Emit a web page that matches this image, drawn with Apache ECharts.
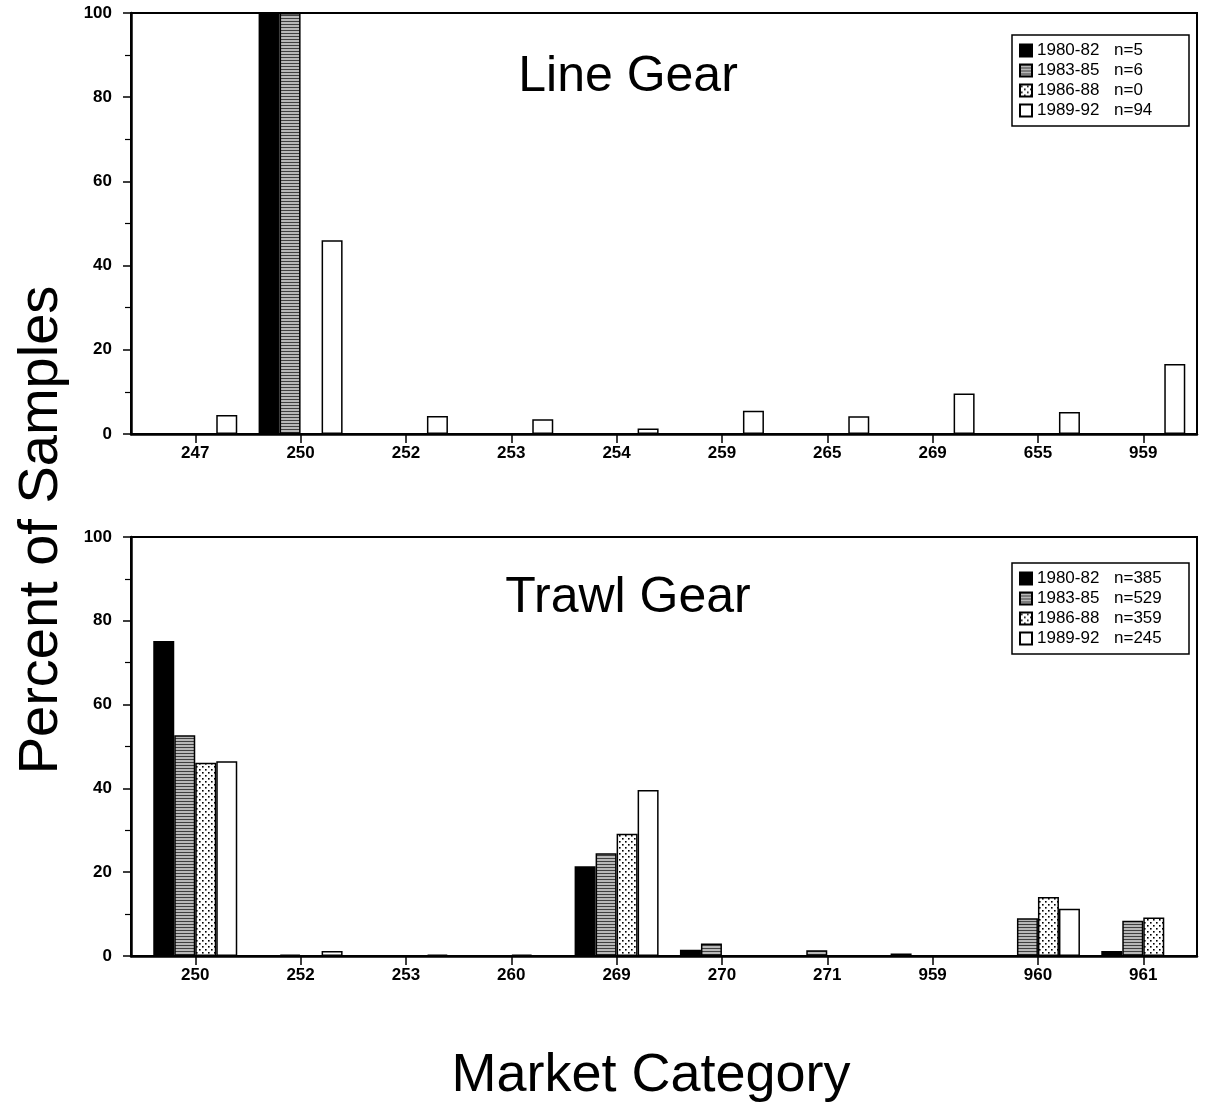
<!DOCTYPE html>
<html>
<head>
<meta charset="utf-8">
<script src="https://cdn.jsdelivr.net/npm/echarts@6/dist/echarts.min.js"></script>
<style>
  html, body { margin: 0; padding: 0; background: #fff; }
  #chart { width: 1207px; height: 1108px; }
</style>
</head>
<body>
<div id="chart"></div>
<script>
  // sampling periods (same in both panels)
  const periods = ['1980-82', '1983-85', '1986-88', '1989-92'];

  // Line Gear panel
  const lineCats = ['247', '250', '252', '253', '254', '259', '265', '269', '655', '959'];
  const lineN = [5, 6, 0, 94];
  const line8082 = [0, 100, 0, 0, 0, 0, 0, 0, 0, 0];
  const line8385 = [0, 100, 0, 0, 0, 0, 0, 0, 0, 0];
  const line8688 = [0, 0, 0, 0, 0, 0, 0, 0, 0, 0];
  const line8992 = [4.5, 46, 4.3, 3.5, 1.3, 5.5, 4.2, 9.6, 5.2, 16.6];

  // Trawl Gear panel
  const trawlCats = ['250', '252', '253', '260', '269', '270', '271', '959', '960', '961'];
  const trawlN = [385, 529, 359, 245];
  const trawl8082 = [75.2, 0, 0, 0, 21.4, 1.5, 0, 0.6, 0, 1.2];
  const trawl8385 = [52.7, 0.3, 0, 0, 24.5, 3.0, 1.4, 0, 9.0, 8.4];
  const trawl8688 = [46.1, 0, 0, 0.3, 29.2, 0, 0, 0, 14.1, 9.2];
  const trawl8992 = [46.5, 1.2, 0.3, 0, 39.6, 0, 0, 0, 11.3, 0];

  const font = '"Liberation Sans", Arial, Helvetica, sans-serif';

  // fill patterns like the old printout
  const makePattern = (w, h, draw) => {
    const c = document.createElement('canvas');
    c.width = w;
    c.height = h;
    draw(c.getContext('2d'));
    return c;
  };
  const hatch = makePattern(4, 3, (ctx) => {
    ctx.fillStyle = '#b8b8b8';
    ctx.fillRect(0, 0, 4, 3);
    ctx.fillStyle = '#404040';
    ctx.fillRect(0, 0, 4, 1);
  });
  const dots = makePattern(6, 6, (ctx) => {
    ctx.fillStyle = '#fff';
    ctx.fillRect(0, 0, 6, 6);
    ctx.fillStyle = '#000';
    ctx.fillRect(1, 1, 1.6, 1.6);
    ctx.fillRect(4, 4, 1.6, 1.6);
  });
  const fills = ['#000', { image: hatch, repeat: 'repeat' }, { image: dots, repeat: 'repeat' }, '#fff'];

  const makeSeries = (arrs, idx) => arrs.map((arr, i) => ({
    name: periods[i],
    type: 'bar',
    xAxisIndex: idx,
    yAxisIndex: idx,
    barWidth: 21,
    barGap: '0%',
    itemStyle: { color: fills[i], borderColor: '#000', borderWidth: 1.5 },
    data: arr.map((v, k) => [k, v]),
  }));

  const makeXAxis = (idx, cats) => ({
    gridIndex: idx,
    type: 'value',
    min: -0.61,
    max: 9.51,
    axisLine: { show: true, onZero: false, lineStyle: { color: '#000', width: 2.5 } },
    axisTick: { show: true, customValues: cats.map((c, i) => i), length: 9, lineStyle: { color: '#000', width: 1.5 } },
    axisLabel: {
      customValues: cats.map((c, i) => i),
      formatter: (v) => cats[Math.round(v)],
      margin: 11,
      fontSize: 17,
      fontWeight: 'bold',
      color: '#000',
      fontFamily: font,
    },
    splitLine: { show: false },
  });

  const makeYAxis = (idx) => ({
    gridIndex: idx,
    type: 'value',
    min: 0,
    max: 100,
    interval: 20,
    axisLine: { show: true, onZero: false, lineStyle: { color: '#000', width: 2.5 } },
    axisTick: { show: true, length: 8, lineStyle: { color: '#000', width: 1.5 } },
    minorTick: { show: true, splitNumber: 2, length: 6, lineStyle: { color: '#000', width: 1.2 } },
    axisLabel: { margin: 19, fontSize: 17, fontWeight: 'bold', color: '#000', fontFamily: font },
    splitLine: { show: false },
  });

  const makeLegend = (top, nArr) => ({
    orient: 'vertical',
    left: 1012,
    top: top,
    icon: 'rect',
    itemWidth: 12,
    itemHeight: 12,
    itemGap: 3,
    padding: [7, 8, 7, 7],
    borderColor: '#000',
    borderWidth: 1.5,
    selectedMode: false,
    data: periods,
    formatter: (name) => '{p|' + name + '}{n|n=' + nArr[periods.indexOf(name)] + '}',
    textStyle: {
      fontFamily: font,
      fontSize: 17,
      color: '#000',
      lineHeight: 14,
      rich: {
        p: { width: 77, fontSize: 17, lineHeight: 14, fontFamily: font },
        n: { width: 67, fontSize: 17, lineHeight: 14, fontFamily: font },
      },
    },
  });

  const chart = echarts.init(document.getElementById('chart'));
  const option = {
    animation: false,
    backgroundColor: '#fff',
    grid: [
      { left: 131, right: 10, top: 13, height: 421, show: true, borderColor: '#000', borderWidth: 2 },
      { left: 131, right: 10, top: 537, height: 419, show: true, borderColor: '#000', borderWidth: 2 },
    ],
    xAxis: [makeXAxis(0, lineCats), makeXAxis(1, trawlCats)],
    yAxis: [makeYAxis(0), makeYAxis(1)],
    legend: [makeLegend(35, lineN), makeLegend(563, trawlN)],
    graphic: [
      { type: 'text', x: 628, y: 77, style: { text: 'Line Gear', font: '50px ' + font, fill: '#000', textAlign: 'center', textVerticalAlign: 'middle' } },
      { type: 'text', x: 628, y: 598, style: { text: 'Trawl Gear', font: '50px ' + font, fill: '#000', textAlign: 'center', textVerticalAlign: 'middle' } },
      { type: 'text', x: 42, y: 530, rotation: Math.PI / 2, style: { text: 'Percent of Samples', font: '56px ' + font, fill: '#000', textAlign: 'center', textVerticalAlign: 'middle' } },
      { type: 'text', x: 651, y: 1076, style: { text: 'Market Category', font: '54px ' + font, fill: '#000', textAlign: 'center', textVerticalAlign: 'middle' } },
    ],
    series: [
      ...makeSeries([line8082, line8385, line8688, line8992], 0),
      ...makeSeries([trawl8082, trawl8385, trawl8688, trawl8992], 1),
    ],
  };
  chart.setOption(option);
</script>
</body>
</html>
